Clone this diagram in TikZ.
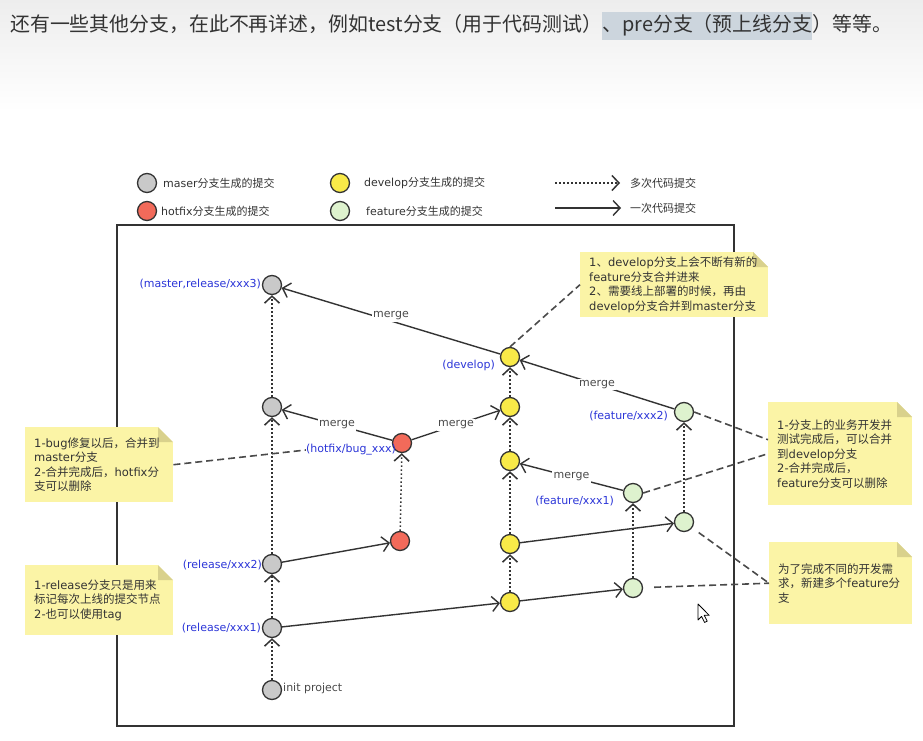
\documentclass[tikz,border=0pt]{standalone}
\usepackage{fontspec}
\setmainfont{DejaVu Sans}
\newfontfamily\cjk{Noto Sans CJK SC}
\usetikzlibrary{arrows.meta}
\hyphenpenalty=10000
\exhyphenpenalty=10000

\definecolor{ink}{HTML}{333333}
\definecolor{softink}{HTML}{4A4A4A}
\definecolor{gitgray}{RGB}{201,201,201}
\definecolor{hotred}{RGB}{242,106,90}
\definecolor{devyellow}{RGB}{249,234,72}
\definecolor{featgreen}{RGB}{222,242,206}
\definecolor{tagblue}{RGB}{43,53,216}
\definecolor{notefill}{RGB}{251,244,166}
\definecolor{notefold}{RGB}{217,209,140}
\definecolor{marked}{RGB}{204,213,221}

\tikzset{
  commit/.style={circle, draw=ink, line width=1.3pt, minimum size=19pt, inner sep=0pt},
  onecommit/.style={draw=ink, line width=1.4pt, -{Straight Barb[length=7pt,width=15pt]}},
  manycommit/.style={draw=ink, line width=1.5pt, dash pattern=on 1.5pt off 2.5pt,
                     -{Straight Barb[length=7pt,width=15pt]}},
  callout/.style={draw=softink, line width=1.6pt, dash pattern=on 7pt off 4pt},
  mergelbl/.style={fill=white, inner sep=1.5pt, text=softink, font=\fontsize{11}{13}\selectfont},
  branchlbl/.style={inner sep=0pt, text=tagblue, font=\fontsize{11}{13}\selectfont},
  legendtxt/.style={inner sep=0pt, anchor=west, text=ink, font=\fontsize{11}{13}\selectfont},
  note/.style={fill=notefill, inner xsep=9pt, inner ysep=0pt, align=left, text=ink,
               anchor=north west, font=\fontsize{11.5}{14.5}\selectfont,
               path picture={
                 \fill[white] (path picture bounding box.north east) ++(-15pt,0pt)
                   -- ++(15pt,0pt) -- ++(0pt,-15pt) -- cycle;
                 \fill[notefold] (path picture bounding box.north east) ++(-15pt,0pt)
                   -- ++(0pt,-15pt) -- ++(15pt,0pt) -- cycle;}},
}

\begin{document}
\begin{tikzpicture}[x=1pt,y=-1pt]
\useasboundingbox (0,0) rectangle (923,741);
\fill[white] (0,0) rectangle (923,741);
\shade[top color=black!7, bottom color=white] (0,0) rectangle (923,112);

% heading line with a selected passage
\begin{scope}[every node/.style={inner xsep=0pt, inner ysep=3pt, text=ink,
                                 font=\cjk\fontsize{19.9}{23}\selectfont}]
  \node[anchor=base west] (h1) at (10,32) {还有一些其他分支，在此不再详述，例如test分支（用于代码测试）};
  \node[anchor=base west, fill=marked] (h2) at (h1.base east) {、pre分支（预上线分支};
  \node[anchor=base west] (h3) at (h2.base east) {）等等。};
\end{scope}

% legend
\node[commit, fill=gitgray]   (lg1) at (147,183) {};
\node[commit, fill=hotred]    (lg2) at (147,211) {};
\node[commit, fill=devyellow] (lg3) at (340,183) {};
\node[commit, fill=featgreen] (lg4) at (340,211) {};
\node[legendtxt] (lt1) at (163,183) {maser{\cjk 分支生成的提交}};
\node[legendtxt] (lt2) at (161,211) {hotfix{\cjk 分支生成的提交}};
\node[legendtxt] (lt3) at (364,183) {develop{\cjk 分支生成的提交}};
\node[legendtxt] (lt4) at (366,211) {feature{\cjk 分支生成的提交}};
\coordinate (la1) at (555,183);
\coordinate (la2) at (620,183);
\coordinate (lb1) at (555,208);
\coordinate (lb2) at (621,208);
\draw[manycommit] (la1) -- (la2);
\draw[onecommit] (lb1) -- (lb2);
\node[legendtxt] (lt5) at (630,183) {\cjk 多次代码提交};
\node[legendtxt] (lt6) at (630,208) {\cjk 一次代码提交};

% frame
\draw[ink, line width=1.8pt] (117,225) rectangle (734,726);

% commits: master / release
\node[commit, fill=gitgray] (m3)   at (272,285) {};
\node[commit, fill=gitgray] (m2)   at (272,407) {};
\node[commit, fill=gitgray] (r2)   at (272,564) {};
\node[commit, fill=gitgray] (r1)   at (272,628) {};
\node[commit, fill=gitgray] (init) at (272,690) {};
% hotfix
\node[commit, fill=hotred] (hx2) at (402,443) {};
\node[commit, fill=hotred] (hx1) at (400,541) {};
% develop
\node[commit, fill=devyellow] (d4) at (510,357) {};
\node[commit, fill=devyellow] (d3) at (510,407) {};
\node[commit, fill=devyellow] (d2) at (510,461) {};
\node[commit, fill=devyellow] (d1) at (510,544) {};
\node[commit, fill=devyellow] (d0) at (510,602) {};
% feature
\node[commit, fill=featgreen] (f2) at (684,412) {};
\node[commit, fill=featgreen] (fb) at (684,522) {};
\node[commit, fill=featgreen] (f1) at (633,493) {};
\node[commit, fill=featgreen] (fa) at (633,588) {};

% branch labels
\node[branchlbl, anchor=east] (lm3) at (261,284) {(master,release/xxx3)};
\node[branchlbl, anchor=east] (ld4) at (495,365) {(develop)};
\node[branchlbl, anchor=east] (lf2) at (668,416) {(feature/xxx2)};
\node[branchlbl, anchor=east] (lf1) at (614,501) {(feature/xxx1)};
\node[branchlbl, anchor=east] (lh)  at (396,450) {(hotfix/bug\_xxx)};
\node[branchlbl, anchor=east] (lr2) at (262,565) {(release/xxx2)};
\node[branchlbl, anchor=east] (lr1) at (261,628) {(release/xxx1)};
\node[inner sep=0pt, anchor=west, text=softink, font=\fontsize{11}{13}\selectfont]
  (linit) at (283,688) {init project};

% runs of commits on one branch
\draw[manycommit] (init) -- (r1);
\draw[manycommit] (r1) -- (r2);
\draw[manycommit] (r2) -- (m2);
\draw[manycommit] (m2) -- (m3);
\draw[manycommit] (hx1) -- (hx2);
\draw[manycommit] (d0) -- (d1);
\draw[manycommit] (d1) -- (d2);
\draw[manycommit] (d2) -- (d3);
\draw[manycommit] (d3) -- (d4);
\draw[manycommit] (fa) -- (f1);
\draw[manycommit] (fb) -- (f2);

% branching off
\draw[onecommit] (r2) -- (hx1);
\draw[onecommit] (r1) -- (d0);
\draw[onecommit] (d0) -- (fa);
\draw[onecommit] (d1) -- (fb);

% merges
\draw[onecommit] (d4) -- node[mergelbl, yshift=5pt] {merge} (m3);
\draw[onecommit] (hx2) -- node[mergelbl] {merge} (m2);
\draw[onecommit] (hx2) -- node[mergelbl] {merge} (d3);
\draw[onecommit] (f2) -- node[mergelbl] {merge} (d4);
\draw[onecommit] (f1) -- node[mergelbl] {merge} (d2);

% notes
\node[note, minimum width=148pt, minimum height=75pt, text width=130pt] (n1) at (25,427)
  {1-bug{\cjk 修复以后，合并到}\\master{\cjk 分支}\\2-{\cjk 合并完成后，}hotfix{\cjk 分}\\{\cjk 支可以删除}};
\node[note, minimum width=188pt, minimum height=65pt, text width=170pt] (n2) at (580,252)
  {1{\cjk 、}develop{\cjk 分支上会不断有新的}\\feature{\cjk 分支合并进来}\\2{\cjk 、需要线上部署的时候，再由}\\develop{\cjk 分支合并到}master{\cjk 分支}};
\node[note, minimum width=144pt, minimum height=103pt, text width=126pt] (n3) at (768,402)
  {1-{\cjk 分支上的业务开发并}\\{\cjk 测试完成后，可以合并}\\{\cjk 到}develop{\cjk 分支}\\2-{\cjk 合并完成后，}\\feature{\cjk 分支可以删除}};
\node[note, minimum width=143pt, minimum height=82pt, text width=125pt] (n4) at (769,542)
  {{\cjk 为了完成不同的开发需}\\{\cjk 求，新建多个}feature{\cjk 分}\\{\cjk 支}};
\node[note, minimum width=148pt, minimum height=70pt, text width=130pt] (n5) at (25,565)
  {1-release{\cjk 分支只是用来}\\{\cjk 标记每次上线的提交节点}\\2-{\cjk 也可以使用}tag};

% note pointers
\draw[callout] (n1.east) -- (lh.west);
\draw[callout] (d4.north) -- (n2.west);
\draw[callout] (f2.east) -- ([yshift=14pt]n3.west);
\draw[callout] (f1.east) -- (n3.west);
\draw[callout, shorten <=8pt] (fb) -- (n4.west);
\draw[callout, shorten <=11pt] (fa) -- (n4.west);

% mouse pointer
\filldraw[fill=white, draw=black, line width=0.8pt, line join=round]
  (698,604) -- ++(0,16) -- ++(3.6,-3.6) -- ++(3,6) -- ++(2.6,-1.3)
  -- ++(-3,-5.8) -- ++(5,0) -- cycle;
\end{tikzpicture}
\end{document}
